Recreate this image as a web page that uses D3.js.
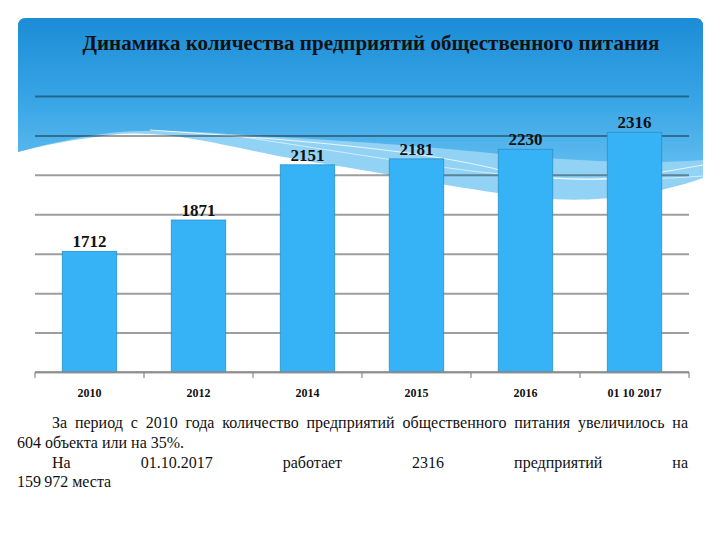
<!DOCTYPE html>
<meta charset="utf-8">
<script src="https://d3js.org/d3.v7.min.js"></script>
<style>
  body { margin: 0; background: #fff; }
</style>
<body>
</body>
<script>

// data
var years = ["2010", "2012", "2014", "2015", "2016", "01 10 2017"];
var counts = [1712, 1871, 2151, 2181, 2230, 2316];
var yTicks = [1100, 1300, 1500, 1700, 1900, 2100, 2300, 2500];

var W = 720, H = 540;
var plot = {left: 35, right: 689, top: 96, bottom: 372};
var SERIF = "Liberation Serif";

var svg = d3.select("body").append("svg")
  .attr("width", W)
  .attr("height", H)
  .attr("font-family", SERIF);

var defs = svg.append("defs");
var grad = defs.append("linearGradient")
  .attr("id", "hdr")
  .attr("x1", 0).attr("y1", 0).attr("x2", 0).attr("y2", 1);
grad.append("stop").attr("offset", "0%").attr("stop-color", "#1b8cd6");
grad.append("stop").attr("offset", "60%").attr("stop-color", "#3aa6e6");
grad.append("stop").attr("offset", "100%").attr("stop-color", "#5dbaee");

// header background with a wavy bottom
svg.append("path")
  .attr("d", "M18,152 L18,26 Q18,18 26,18 L695,18 Q703,18 703,26 L703,178 " +
    "C640,200 580,202 540,198 C460,190 400,175 300,160 C230,148 170,128 110,135 C70,140 40,146 18,152 Z")
  .attr("fill", "#92d2f5");

svg.append("path")
  .attr("d", "M18,152 L18,26 Q18,18 26,18 L695,18 Q703,18 703,26 L703,160 " +
    "C640,165 560,160 480,152 C400,144 330,140 260,136 C200,132 150,128 110,133 C70,138 40,146 18,152 Z")
  .attr("fill", "url(#hdr)");

// thin white strands on the wave
svg.append("path")
  .attr("d", "M150,130 C300,140 420,150 500,170 C580,188 640,176 703,165")
  .attr("fill", "none").attr("stroke", "#ffffff").attr("stroke-opacity", 0.8).attr("stroke-width", 1);
svg.append("path")
  .attr("d", "M230,135 C330,150 420,165 480,172 C560,180 620,182 703,176")
  .attr("fill", "none").attr("stroke", "#ffffff").attr("stroke-opacity", 0.6).attr("stroke-width", 1);

// title
svg.append("text")
  .attr("x", 371)
  .attr("y", 50)
  .attr("text-anchor", "middle")
  .attr("textLength", 577)
  .attr("lengthAdjust", "spacingAndGlyphs")
  .attr("font-family", SERIF)
  .attr("font-size", 22)
  .attr("font-weight", "bold")
  .attr("fill", "#111")
  .text("Динамика количества предприятий общественного питания");

var x = d3.scaleBand()
  .domain(years)
  .range([plot.left, plot.right])
  .paddingInner(0.5)
  .paddingOuter(0.25);

var y = d3.scaleLinear()
  .domain([yTicks[0], yTicks[yTicks.length - 1]])
  .range([plot.bottom, plot.top]);

// gridlines
var grid = svg.append("g")
  .attr("transform", "translate(" + plot.left + ",0)")
  .call(d3.axisLeft(y).tickValues(yTicks).tickSize(-(plot.right - plot.left)).tickFormat(""));
grid.select(".domain").remove();
grid.selectAll("text").remove();
grid.selectAll("line")
  .attr("stroke", "#000")
  .attr("stroke-opacity", 0.38)
  .attr("stroke-width", 2);

// bars
svg.selectAll(".bar")
  .data(counts)
  .enter().append("rect")
  .attr("class", "bar")
  .attr("x", function(d, i) { return x(years[i]); })
  .attr("y", function(d) { return y(d); })
  .attr("width", x.bandwidth())
  .attr("height", function(d) { return plot.bottom - y(d); })
  .attr("fill", "#35b3f6")
  .attr("stroke", "#2d8fc6")
  .attr("stroke-width", 0.8);

// value labels
svg.selectAll(".val")
  .data(counts)
  .enter().append("text")
  .attr("class", "val")
  .attr("x", function(d, i) { return x(years[i]) + x.bandwidth() / 2; })
  .attr("y", function(d) { return y(d) - 4; })
  .attr("text-anchor", "middle")
  .attr("font-family", SERIF)
  .attr("font-size", 17)
  .attr("font-weight", "bold")
  .attr("fill", "#111")
  .text(function(d) { return d; });

// x axis: baseline + ticks at band edges
var xAxis = svg.append("g");
xAxis.append("line")
  .attr("x1", plot.left).attr("x2", plot.right)
  .attr("y1", plot.bottom).attr("y2", plot.bottom)
  .attr("stroke", "#8a8a8a").attr("stroke-width", 1.5);
var edges = years.map(function(d) { return x(d) - x.step() * x.paddingInner() / 2; });
edges[0] = plot.left;
edges.push(plot.right);
xAxis.selectAll(".tk")
  .data(edges)
  .enter().append("line")
  .attr("x1", function(d) { return d; }).attr("x2", function(d) { return d; })
  .attr("y1", plot.bottom).attr("y2", plot.bottom + 6)
  .attr("stroke", "#8a8a8a").attr("stroke-width", 1.2);
xAxis.selectAll(".lbl")
  .data(years)
  .enter().append("text")
  .attr("x", function(d) { return x(d) + x.bandwidth() / 2; })
  .attr("y", 397)
  .attr("text-anchor", "middle")
  .attr("font-family", SERIF)
  .attr("font-size", 12)
  .attr("font-weight", "bold")
  .attr("fill", "#111")
  .text(function(d) { return d; });

// caption text, justified lines placed word by word
function justify(str, x0, x1, yy) {
  var words = str.split(" ");
  var g = svg.append("g");
  var nodes = words.map(function(w) {
    return g.append("text").attr("y", yy)
      .attr("font-family", SERIF).attr("font-size", 16).attr("fill", "#111").text(w);
  });
  var widths = nodes.map(function(n) { return n.node().getComputedTextLength(); });
  var gap = (x1 - x0 - d3.sum(widths)) / (words.length - 1);
  var cx = x0;
  nodes.forEach(function(n, i) {
    n.attr("x", cx);
    cx += widths[i] + gap;
  });
}
function plain(str, x0, yy) {
  svg.append("text").attr("x", x0).attr("y", yy)
    .attr("font-family", SERIF).attr("font-size", 16).attr("fill", "#111").text(str);
}

justify("За период с 2010 года количество предприятий общественного питания увеличилось на", 52, 688, 428);
plain("604 объекта или на 35%.", 17, 448);
justify("На 01.10.2017 работает 2316 предприятий на", 52, 688, 468);
plain("159\u2009972 места", 17, 487);

</script>
